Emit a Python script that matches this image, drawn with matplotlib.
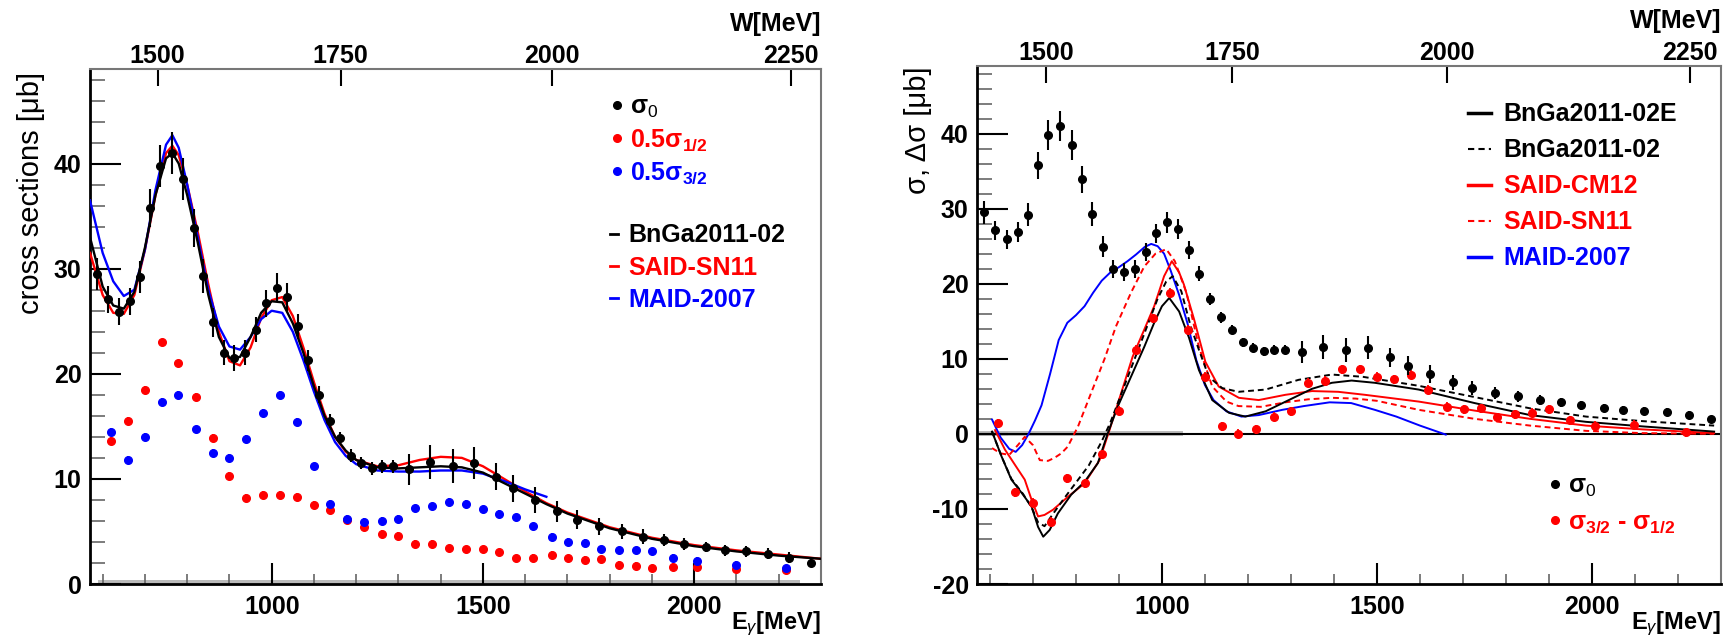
import numpy as np
import matplotlib
matplotlib.use('Agg')
import matplotlib.pyplot as plt
from matplotlib.lines import Line2D
from matplotlib.ticker import MultipleLocator, FixedLocator

plt.rcParams['font.family'] = ['Liberation Sans', 'DejaVu Sans']
plt.rcParams['mathtext.fontset'] = 'custom'
plt.rcParams['mathtext.rm'] = 'Liberation Sans'
plt.rcParams['mathtext.it'] = 'Liberation Sans:italic'
plt.rcParams['mathtext.bf'] = 'Liberation Sans:bold'
plt.rcParams['axes.unicode_minus'] = False

M_P = 938.27   # proton mass, for the W axis

# ---- measured points: sigma_0 (both panels)
E0 = [586, 613, 639, 665, 688, 712, 736, 764, 790, 815, 837, 862, 886, 911, 937,
      963, 987, 1012, 1037, 1062, 1087, 1111, 1137, 1162, 1188, 1212, 1237, 1261,
      1286, 1326, 1374, 1429, 1478, 1530, 1572, 1624, 1676, 1722, 1774, 1829, 1878,
      1929, 1975, 2027, 2072, 2122, 2174, 2225, 2276]
s0 = [29.5, 27.1, 25.9, 26.9, 29.2, 35.8, 39.8, 41.0, 38.5, 33.9, 29.3, 24.9, 22.0,
      21.5, 22.0, 24.2, 26.7, 28.2, 27.3, 24.5, 21.3, 18.0, 15.5, 13.9, 12.2, 11.5,
      11.0, 11.2, 11.2, 10.9, 11.6, 11.2, 11.5, 10.2, 9.1, 8.0, 6.9, 6.1, 5.5, 5.0,
      4.5, 4.2, 3.8, 3.5, 3.2, 3.1, 2.9, 2.5, 2.0]
s0_err = [1.5, 1.3, 1.3, 1.3, 1.5, 1.8, 2.0, 2.0, 2.0, 1.8, 1.6, 1.4, 1.2, 1.2, 1.2,
          1.2, 1.3, 1.4, 1.3, 1.2, 1.0, 0.8, 0.7, 0.6, 0.6, 0.6, 0.6, 0.6, 0.6, 1.5,
          1.6, 1.6, 1.5, 1.3, 1.3, 1.2, 1.0, 0.9, 0.8, 0.7, 0.7, 0.6, 0.6, 0.5, 0.5,
          0.5, 0.5, 0.5, 0.4]

# ---- helicity points
E_h = [619, 659, 700, 741, 779, 820, 860, 900, 940, 979, 1019, 1060, 1099, 1139, 1178,
       1219, 1260, 1300, 1340, 1380, 1419, 1460, 1500, 1539, 1579, 1618, 1663, 1702,
       1741, 1780, 1821, 1861, 1899, 1949, 2007, 2098, 2218]
s12_half = [13.6, 15.5, 18.5, 23.0, 21.0, 17.8, 13.9, 10.3, 8.2, 8.5, 8.5, 8.3, 7.5,
            7.0, 6.1, 5.4, 4.8, 4.6, 3.8, 3.8, 3.4, 3.3, 3.3, 3.0, 2.45, 2.5, 2.8,
            2.45, 2.3, 2.35, 1.8, 1.7, 1.5, 1.65, 1.6, 1.4, 1.3]
s32_half = [14.5, 11.8, 14.0, 17.3, 18.0, 14.7, 12.5, 12.0, 13.8, 16.3, 18.0, 15.4,
            11.2, 7.6, 6.2, 5.9, 6.0, 6.2, 7.2, 7.4, 7.8, 7.6, 7.1, 6.7, 6.35, 5.5,
            4.5, 4.0, 3.9, 3.3, 3.2, 3.2, 3.1, 2.5, 2.2, 1.8, 1.5]
dsig = [1.4, -7.8, -9.2, -11.7, -5.9, -6.6, -2.7, 3.1, 11.2, 15.4, 18.8, 13.9, 7.6,
        1.0, 0.0, 0.6, 2.3, 3.0, 6.8, 7.1, 8.6, 8.6, 7.6, 7.3, 7.9, 5.9, 3.6, 3.3,
        3.4, 2.2, 2.6, 2.8, 3.3, 1.8, 1.1, 1.2, 0.2]

# ---- model curves, left panel (total cross section)
E_cl = [570, 600, 625, 650, 675, 700, 725, 750, 765, 780, 800, 825, 850, 875, 900,
        925, 950, 975, 1000, 1025, 1050, 1075, 1100, 1125, 1150, 1175, 1200, 1250,
        1300, 1350, 1400, 1450, 1500, 1550, 1600, 1650, 1700, 1800, 1900, 2000, 2100,
        2200, 2300]
bnga_L = [33.0, 28.3, 26.5, 26.2, 27.8, 32.0, 37.0, 40.5, 41.0, 40.0, 37.0, 32.5,
          27.5, 23.5, 21.5, 21.6, 23.5, 25.8, 26.9, 26.8, 24.8, 22.0, 18.8, 16.0,
          14.0, 12.7, 11.8, 11.1, 11.0, 11.1, 11.2, 11.1, 10.6, 9.6, 8.6, 7.6, 6.7,
          5.3, 4.3, 3.6, 3.1, 2.7, 2.4]
said_L = [31.5, 27.5, 25.8, 25.7, 27.5, 31.8, 37.0, 41.0, 41.7, 40.8, 38.0, 33.5,
          28.5, 24.0, 21.2, 20.8, 22.5, 25.3, 27.0, 27.3, 25.5, 22.5, 19.2, 16.2,
          14.0, 12.6, 11.8, 11.2, 11.3, 11.8, 12.1, 12.0, 11.2, 10.0, 8.8, 7.7, 6.8,
          5.4, 4.4, 3.7, 3.2, 2.8, 2.4]
maid_L = [36.5, 31.5, 28.8, 27.4, 28.0, 31.8, 37.5, 41.8, 42.7, 41.5, 38.0, 33.0,
          28.0, 24.5, 22.6, 22.3, 23.5, 25.2, 26.0, 25.8, 24.0, 21.3, 18.3, 15.6,
          13.5, 12.2, 11.4, 10.8, 10.7, 10.7, 10.8, 10.8, 10.5, 9.8, 9.0, 8.3]

# ---- model curves, right panel (helicity difference)
E_maid_R = [605, 625, 645, 660, 675, 690, 705, 720, 740, 760, 780, 800, 820, 840, 860,
            880, 900, 920, 940, 960, 975, 990, 1005, 1020, 1040, 1060, 1080, 1100,
            1120, 1150, 1185, 1225, 1280, 1330, 1390, 1440, 1495, 1545, 1600, 1660]
maid_R = [1.9, -0.5, -2.0, -2.4, -1.5, 0.0, 1.8, 3.8, 8.0, 12.5, 14.8, 15.8, 17.0,
          18.8, 20.4, 21.5, 22.2, 23.0, 23.9, 24.9, 25.3, 25.0, 24.0, 21.8, 18.5, 14.6,
          9.8, 6.5, 4.5, 3.0, 2.3, 2.5, 3.2, 3.7, 4.2, 4.1, 3.2, 2.3, 1.1, -0.1]
E_bngaE_R = [605, 627, 650, 677, 697, 712, 724, 739, 758, 789, 820, 851, 873, 897, 928,
             959, 982, 1000, 1017, 1040, 1063, 1086, 1117, 1156, 1194, 1241, 1295,
             1349, 1395, 1441, 1495, 1597, 1727, 1856, 1986, 2116, 2284]
bngaE_R = [0.3, -3.0, -6.1, -8.1, -9.7, -12.4, -13.7, -12.8, -10.6, -8.1, -6.4, -3.9,
           -0.1, 3.6, 7.6, 11.6, 14.8, 17.0, 18.1, 16.3, 12.8, 8.5, 4.5, 2.8, 2.3, 3.0,
           4.5, 6.0, 6.8, 7.1, 6.8, 5.9, 4.1, 2.5, 1.6, 1.0, 0.3]
E_bnga_R = [605, 627, 650, 677, 697, 712, 727, 745, 770, 800, 830, 860, 880, 900, 930,
            960, 990, 1010, 1025, 1045, 1067, 1086, 1109, 1140, 1178, 1241, 1318, 1395,
            1467, 1597, 1727, 1856, 1986, 2116, 2284]
bnga_R = [0.3, -3.0, -6.0, -8.0, -9.8, -11.8, -12.3, -10.8, -8.8, -6.5, -4.2, -1.0,
          1.5, 4.5, 9.0, 13.5, 18.0, 20.3, 21.0, 19.0, 14.3, 11.2, 7.6, 6.1, 5.6, 5.9,
          7.2, 7.9, 7.6, 6.4, 4.9, 3.4, 2.3, 1.7, 1.1]
E_cm12_R = [612, 635, 666, 681, 697, 712, 727, 747, 781, 820, 855, 878, 905, 932, 959,
            982, 1005, 1023, 1040, 1051, 1075, 1101, 1132, 1179, 1225, 1287, 1349, 1410,
            1472, 1597, 1727, 1856, 1986, 2116, 2284]
cm12_R = [0.5, -2.1, -4.8, -6.1, -8.8, -11.0, -10.8, -10.1, -8.4, -6.6, -3.5, 0.5, 5.4,
          10.3, 13.9, 17.0, 21.0, 23.0, 21.5, 19.9, 15.2, 9.6, 6.3, 4.8, 4.5, 5.2, 5.7,
          5.6, 5.2, 4.3, 3.1, 2.0, 1.1, 0.6, 0.1]
E_sn11_R = [605, 625, 645, 665, 681, 700, 716, 735, 750, 766, 781, 805, 835, 866, 893,
            928, 959, 985, 1010, 1030, 1057, 1086, 1117, 1150, 1178, 1230, 1287, 1340,
            1395, 1450, 1500, 1597, 1727, 1856, 1986, 2116, 2284]
sn11_R = [-1.9, -2.6, -2.8, -1.5, -0.4, -1.5, -3.5, -3.6, -3.2, -2.6, -1.7, 1.0, 5.4,
          9.9, 14.3, 18.8, 22.3, 24.0, 24.6, 23.0, 18.8, 11.6, 6.3, 4.3, 3.7, 3.6, 4.2,
          4.6, 4.8, 4.7, 4.4, 3.2, 2.0, 1.1, 0.4, 0.1, 0.0]

# systematic bands (grey)
sysL_E, sysL_h = [590, 2250], [0.35, 0.35]
sysR_E, sysR_h = [575, 1050], [0.35, 0.35]

RED, BLUE = '#ff0000', '#0000ff'
FS = 18
DASH = (0, (3, 2))

def E2W(e):
    return np.sqrt(M_P**2 + 2*M_P*np.asarray(e, float))
def W2E(w):
    return (np.asarray(w, float)**2 - M_P**2) / (2*M_P)

def style(ax, ylims, h_ax):
    ax.set_xlim(570, 2300); ax.set_ylim(*ylims)
    ax.xaxis.set_major_locator(FixedLocator([1000, 1500, 2000]))
    ax.xaxis.set_minor_locator(MultipleLocator(100))
    ax.yaxis.set_major_locator(MultipleLocator(10))
    ax.yaxis.set_minor_locator(MultipleLocator(2))
    ax.tick_params(which='both', direction='in', top=False, right=False, labelsize=FS)
    ax.tick_params(axis='y', which='major', length=22, width=1.5, pad=6)
    ax.tick_params(axis='y', which='minor', length=11, width=1.2, color='#666666')
    ax.tick_params(axis='x', which='major', length=15, width=1.5, pad=8)
    ax.tick_params(axis='x', which='minor', length=7, width=1.2, color='#666666')
    for lab in ax.get_xticklabels() + ax.get_yticklabels():
        lab.set_fontweight('bold')
    for s in ['left', 'bottom']:
        ax.spines[s].set_linewidth(2)
    for s in ['top', 'right']:
        ax.spines[s].set_linewidth(1.5); ax.spines[s].set_color('#777777')
    sec = ax.secondary_xaxis('top', functions=(E2W, W2E))
    sec.set_xticks([1500, 1750, 2000, 2250])
    sec.xaxis.set_minor_locator(FixedLocator([]))
    sec.tick_params(direction='in', length=12, width=1.5, labelsize=FS, pad=1)
    for lab in sec.get_xticklabels():
        lab.set_fontweight('bold')
    sec.spines['top'].set_visible(False)
    ax.text(1.0, 1.0 + 45 / h_ax, 'W[MeV]', transform=ax.transAxes, ha='right',
            va='center', fontsize=FS, fontweight='bold')
    ax.set_xlabel(r'E$_{\gamma}$[MeV]', fontsize=17, fontweight='bold', loc='right')
    ax.xaxis.set_label_coords(1.0, -26 / h_ax)

fig = plt.figure(figsize=(17.29, 6.40), dpi=100)
fig.patch.set_facecolor('white')
axL = fig.add_axes([0.05205, 0.0875, 0.42279, 0.80469])
axR = fig.add_axes([0.56507, 0.0875, 0.43031, 0.80938])

# ---------------- left panel
axL.fill_between(sysL_E, 0, sysL_h, color='#bbbbbb', lw=0, zorder=1)
axL.plot(E_cl, said_L, color=RED, lw=1.7, zorder=3)
axL.plot(E_cl[:len(maid_L)], maid_L, color=BLUE, lw=1.7, zorder=3)
axL.plot(E_cl, bnga_L, color='black', lw=1.7, zorder=4)
axL.errorbar(E_h, s12_half, yerr=0.35, fmt='o', ms=5.5, color=RED, elinewidth=1.3,
             capsize=0, zorder=5)
axL.errorbar(E_h, s32_half, yerr=0.35, fmt='o', ms=5.5, color=BLUE, elinewidth=1.3,
             capsize=0, zorder=5)
axL.errorbar(E0, s0, yerr=s0_err, fmt='o', ms=5.5, color='black', elinewidth=1.5,
             capsize=0, zorder=6)
style(axL, (0, 49), 515)
axL.set_ylabel('cross sections [μb]', fontsize=21, loc='top')
axL.yaxis.set_label_coords(-0.062, 0.995)

lp = dict(family='Liberation Sans', weight='bold', size=FS)
h1 = [Line2D([], [], ls='none', marker='o', ms=5.5, color=c) for c in ['black', RED, BLUE]]
leg1 = axL.legend(h1, ['σ$_0$', r'0.5σ$_{\mathbf{1/2}}$', r'0.5σ$_{\mathbf{3/2}}$'],
                  loc='upper left', bbox_to_anchor=(0.712, 0.95), frameon=False,
                  prop=lp, handlelength=0.5, handletextpad=0.3, labelspacing=0.3,
                  borderpad=0, borderaxespad=0, labelcolor=['black', RED, BLUE])
axL.add_artist(leg1)
h2 = [Line2D([], [], color=c, lw=2) for c in ['black', RED, BLUE]]
axL.legend(h2, ['BnGa2011-02', 'SAID-SN11', 'MAID-2007'], loc='upper left',
           bbox_to_anchor=(0.712, 0.70), frameon=False, prop=lp, handlelength=0.3,
           handletextpad=0.4, labelspacing=0.33, borderpad=0, borderaxespad=0,
           labelcolor=['black', RED, BLUE])

# ---------------- right panel
axR.fill_between(sysR_E, [-h for h in sysR_h], sysR_h, color='#bbbbbb', lw=0, zorder=1)
axR.axhline(0, color='black', lw=1.5, zorder=2)
axR.plot(E_maid_R, maid_R, color=BLUE, lw=1.4, zorder=3)
axR.plot(E_sn11_R, sn11_R, color=RED, lw=1.4, ls=DASH, zorder=3)
axR.plot(E_cm12_R, cm12_R, color=RED, lw=1.4, zorder=3)
axR.plot(E_bnga_R, bnga_R, color='black', lw=1.4, ls=DASH, zorder=4)
axR.plot(E_bngaE_R, bngaE_R, color='black', lw=1.4, zorder=4)
axR.errorbar(E0, s0, yerr=s0_err, fmt='o', ms=5.5, color='black', elinewidth=1.5,
             capsize=0, zorder=6)
axR.errorbar(E_h, dsig, yerr=0.6, fmt='o', ms=5.5, color=RED, elinewidth=1.3,
             capsize=0, zorder=5)
style(axR, (-20, 49), 518)
axR.set_ylabel('σ, Δσ [μb]', fontsize=21, loc='top')
axR.yaxis.set_label_coords(-0.060, 1.0)

h3 = [Line2D([], [], color='black', lw=2.5),
      Line2D([], [], color='black', lw=1.5, ls=DASH),
      Line2D([], [], color=RED, lw=2.5),
      Line2D([], [], color=RED, lw=1.5, ls=DASH),
      Line2D([], [], color=BLUE, lw=2.5)]
leg3 = axR.legend(h3, ['BnGa2011-02E', 'BnGa2011-02', 'SAID-CM12', 'SAID-SN11', 'MAID-2007'],
                  loc='upper left', bbox_to_anchor=(0.66, 0.93), frameon=False, prop=lp,
                  handlelength=0.9, handletextpad=0.5, labelspacing=0.48, borderpad=0,
                  borderaxespad=0,
                  labelcolor=['black', 'black', RED, RED, BLUE])
axR.add_artist(leg3)
h4 = [Line2D([], [], ls='none', marker='o', ms=5.5, color=c) for c in ['black', RED]]
axR.legend(h4, ['σ$_0$', r'σ$_{\mathbf{3/2}}$ - σ$_{\mathbf{1/2}}$'], loc='upper left',
           bbox_to_anchor=(0.768, 0.212), frameon=False, prop=lp, handlelength=0.5,
           handletextpad=0.3, labelspacing=0.42, borderpad=0, borderaxespad=0,
           labelcolor=['black', RED])

fig.savefig('out.png', dpi=100)
